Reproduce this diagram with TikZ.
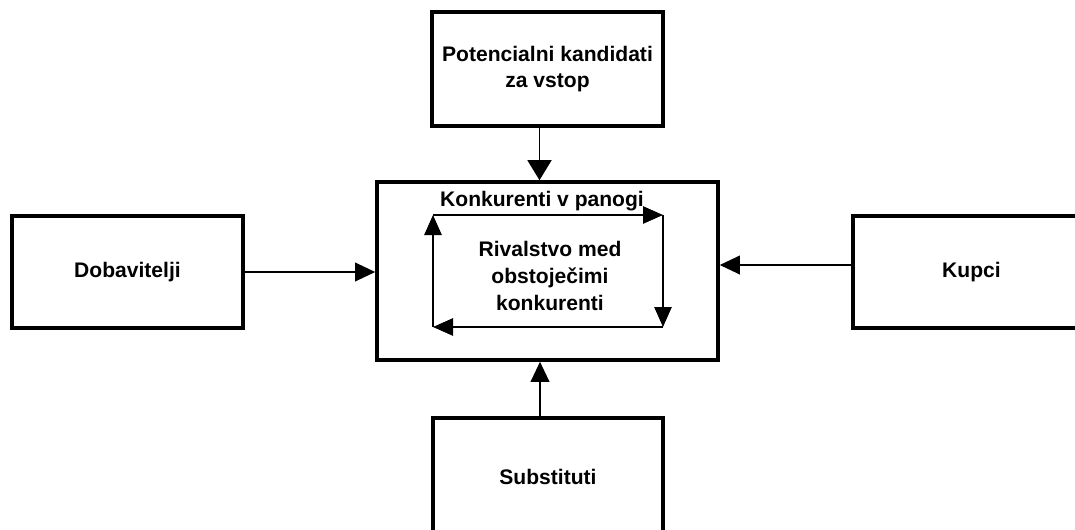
\documentclass[tikz,border=0pt]{standalone}
\usepackage{fontspec}
\setmainfont{Liberation Sans}
\usetikzlibrary{arrows.meta}
\begin{document}
\begin{tikzpicture}[x=0.75pt,y=-0.75pt,
  box/.style={draw,line width=2.5pt,align=center,inner sep=0pt,
    font=\fontsize{15.8}{19}\selectfont\bfseries},
  lbl/.style={align=center,inner sep=0pt,font=\fontsize{15.8}{20.5}\selectfont\bfseries},
  conn/.style={line width=1.1pt,-{Triangle[length=15pt,width=14pt]}},
  loop/.style={line width=1.2pt,-{Triangle[length=15pt,width=13pt]}}]
\clip (0,0) rectangle (1075,529);
\node[box,minimum width=173.25pt,minimum height=85.5pt] (top) at (547.5,69) {Potencialni kandidati\\za vstop};
\node[box,line width=2.7pt,minimum width=255.75pt,minimum height=133.5pt] (center) at (547.5,271) {};
\node[box,minimum width=173.25pt,minimum height=84pt] (left) at (127.5,272) {Dobavitelji};
\node[box,minimum width=177.75pt,minimum height=84pt] (right) at (971.5,272) {Kupci};
\node[box,minimum width=172.5pt,minimum height=88.5pt] (bottom) at (548,477) {Substituti};
\node[lbl] (konk) at (542,201) {Konkurenti v panogi};
\node[lbl] (riv) at (550,276) {Rivalstvo med\\obstoječimi\\konkurenti};
\coordinate (c1) at (433,215);
\coordinate (c2) at (663,215);
\coordinate (c3) at (663,327);
\coordinate (c4) at (433,327);
\draw[conn,-{Triangle[length=15pt,width=18pt]}] ([xshift=-6pt]top.south) -- ([xshift=-6pt]top.south |- center.north);
\draw[conn] (left.east) -- (left.east -| center.west);
\draw[conn] ([yshift=5.25pt]right.west) -- ([yshift=5.25pt]right.west -| center.east);
\draw[conn] ([xshift=-6pt]bottom.north) -- ([xshift=-6pt]bottom.north |- center.south);
\draw[loop] (c1) -- (c2);
\draw[loop] (c2) -- (c3);
\draw[loop] (c3) -- (c4);
\draw[loop] (c4) -- (c1);
\end{tikzpicture}
\end{document}
